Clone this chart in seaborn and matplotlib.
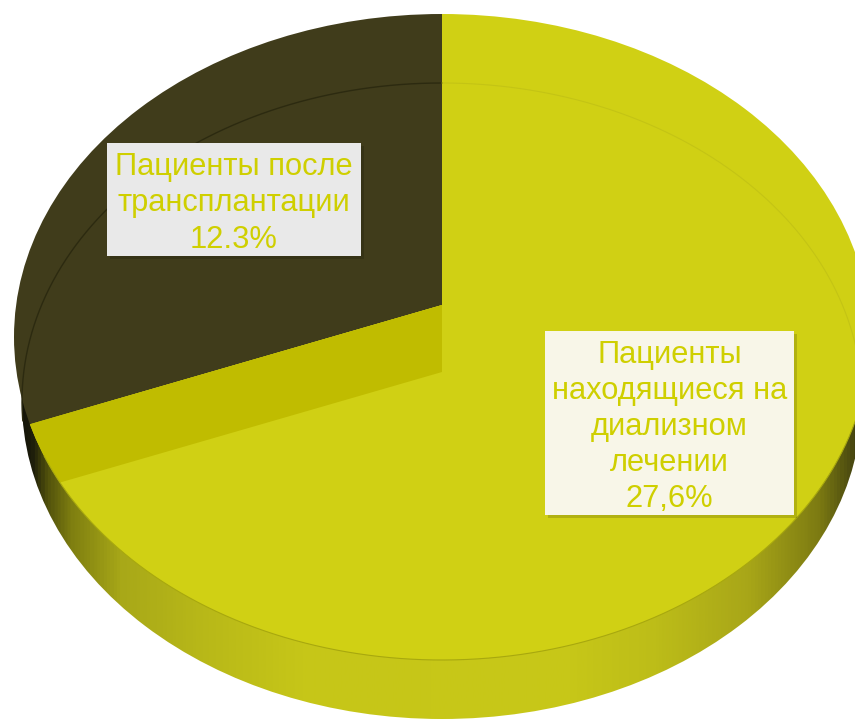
import numpy as np
import matplotlib
matplotlib.use('Agg')
import matplotlib.pyplot as plt
import matplotlib.patheffects as pe
from matplotlib.colors import LinearSegmentedColormap
from matplotlib.patches import Circle, Ellipse, Rectangle, Polygon
import seaborn as sns

# data
values = [12.3, 27.6]
value_labels = ['12.3%', '27,6%']
names = ['Пациенты после\nтрансплантации', 'Пациенты\nнаходящиеся на\nдиализном\nлечении']
colors = ['#403c1b', '#d0d014']

sns.set_theme(style='white')
plt.rcParams['font.family'] = ['Liberation Sans', 'DejaVu Sans']

W, H = 855, 719
# top face of the disc, in pixels
cx, cy, rx, ry = 442, 337, 428, 323
apex_y, wall_y = 305, 372
# bottom face
bot_cy, bot_rx, bot_ry = 401, 420, 318


def px(x):
    return (x - cx) / rx


def py(y):
    return (cy - y) / ry


def ray_hit(y0, t):
    # where a ray from (0, y0) meets the unit circle
    dx, dy = np.cos(t), np.sin(t)
    b = y0 * dy
    s = -b + np.sqrt(b * b - (y0 * y0 - 1))
    return np.array([s * dx, y0 + s * dy])


fig = plt.figure(figsize=(W / 100, H / 100), dpi=100)
ax = fig.add_axes([0, 0, 1, 1])

# side of the disc, shading runs left to right
stops = [(14, '#101008'), (30, '#1c1c0a'), (45, '#50500c'), (70, '#7f7f10'), (120, '#a8a818'),
         (200, '#b8b818'), (300, '#c6c618'), (560, '#c8c818'), (655, '#bdbd18'), (750, '#a8a618'),
         (820, '#7d7b12'), (860, '#404010')]
side = LinearSegmentedColormap.from_list('side', [((x - 14) / 846, c) for x, c in stops])
grad = ax.imshow(np.linspace(0, 1, 855)[None, :], cmap=side, aspect='auto', zorder=1,
                 extent=(px(14), px(860), py(719), py(0)))
grad.set_clip_path(Ellipse((0, py(bot_cy)), 2 * bot_rx / rx, 2 * bot_ry / ry, transform=ax.transData))

# top face
wedges, _ = ax.pie(values, colors=colors, startangle=90, radius=2.5, center=(0, py(apex_y)),
                   wedgeprops={'linewidth': 0})
for w in wedges:
    w.set_zorder(2)
    w.set_clip_on(True)
    w.set_clip_path(Circle((0, 0), 1, transform=ax.transData))

# cut wall seen through the disc
t_end = np.pi / 2 + 2 * np.pi * values[0] / sum(values)
p1 = ray_hit(py(apex_y), t_end)
p2 = ray_hit(py(wall_y), t_end)
a1, a2 = np.arctan2(p1[1], p1[0]) % (2 * np.pi), np.arctan2(p2[1], p2[0]) % (2 * np.pi)
arc = np.linspace(a1, a2, 30)
wall = [(0, py(apex_y))] + list(zip(np.cos(arc), np.sin(arc))) + [(0, py(wall_y))]
ax.add_patch(Polygon(wall, closed=True, fc='#c0bc00', ec='none', zorder=3))

# back edge of the bottom face
th = np.linspace(np.pi / 2, np.pi * 1.02, 200)
ax.plot(bot_rx / rx * np.cos(th), py(bot_cy) + bot_ry / ry * np.sin(th), color='#2c2a10', lw=1, zorder=4)
th = np.linspace(0.02, np.pi / 2, 200)
ax.plot(bot_rx / rx * np.cos(th), py(bot_cy) + bot_ry / ry * np.sin(th), color='#c4c414', lw=0.8, zorder=4)

# rim line of the top face
th = np.linspace(np.pi * 1.12, np.pi * 1.93, 300)
ax.plot(np.cos(th), np.sin(th), color='#a8a80e', lw=0.8, zorder=4)

# label boxes
boxes = [(107, 143, 361, 256, '#e9e9e9'), (545, 331, 794, 515, '#f8f6e8')]
shadow = [pe.SimplePatchShadow(offset=(2, -2), alpha=0.15, shadow_rgbFace='black'), pe.Normal()]
for (x0, y0, x1, y1, fc), name, lab in zip(boxes, names, value_labels):
    ax.add_patch(Rectangle((px(x0), py(y1)), px(x1) - px(x0), py(y0) - py(y1), fc=fc, ec='none',
                           zorder=5, path_effects=shadow))
    ax.text(px((x0 + x1) / 2), py((y0 + y1) / 2 + 4), name + '\n' + lab, ha='center', va='center',
            color='#cfcf00', fontsize=22.2, linespacing=1.27, zorder=6)

ax.set_xlim(px(0), px(W))
ax.set_ylim(py(H), py(0))
ax.set_aspect('auto')
ax.axis('off')

fig.savefig('out.png', dpi=100)
